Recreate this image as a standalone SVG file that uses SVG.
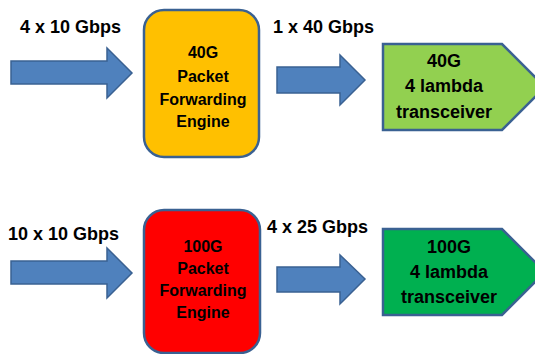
<svg xmlns="http://www.w3.org/2000/svg" width="535" height="354" viewBox="0 0 535 354">
<style>
.arrow{fill:#4F81BD;stroke:#3A6192;stroke-width:1.5}
.box{stroke:#3A6192;stroke-width:2.5}
.lbl{font-family:"Liberation Sans",Arial,sans-serif;font-weight:bold;font-size:18px;fill:#000}
.eng{font-family:"Liberation Sans",Arial,sans-serif;font-weight:bold;font-size:16px;fill:#000;text-anchor:middle}
.trx{font-family:"Liberation Sans",Arial,sans-serif;font-weight:bold;font-size:18px;fill:#000;text-anchor:middle}
</style>
<rect width="535" height="354" fill="#fff"/>
<g id="connectors">
<polygon class="arrow" points="11,61 107,61 107,48 132,73 107,98 107,84 11,84"/>
<polygon class="arrow" points="277,67 340,67 340,55 365,80 340,105 340,93 277,93"/>
<polygon class="arrow" points="11,261 107,261 107,248 132,273 107,298 107,284 11,284"/>
<polygon class="arrow" points="277,267 340,267 340,255 365,279 340,304 340,292 277,292"/>
</g>
<g id="label-4x10">
<text class="lbl" x="20" y="33">4 x 10 Gbps</text>
</g>
<g id="label-1x40">
<text class="lbl" x="273" y="33">1 x 40 Gbps</text>
</g>
<g id="label-10x10">
<text class="lbl" x="8" y="240">10 x 10 Gbps</text>
</g>
<g id="label-4x25">
<text class="lbl" x="267" y="233">4 x 25 Gbps</text>
</g>
<g id="engine40">
<rect class="box" x="144" y="10" width="115" height="147" rx="20" ry="20" fill="#FFC000"/>
<text class="eng" x="203" y="58">40G</text>
<text class="eng" x="203" y="82">Packet</text>
<text class="eng" x="203" y="105">Forwarding</text>
<text class="eng" x="203" y="127">Engine</text>
</g>
<g id="trx40">
<polygon class="box" points="383,44 502,44 545,87 502,130 383,130" fill="#92D050"/>
<text class="trx" x="444" y="67">40G</text>
<text class="trx" x="444" y="92">4 lambda</text>
<text class="trx" x="444" y="118">transceiver</text>
</g>
<g id="engine100">
<rect class="box" x="144" y="210" width="116" height="143" rx="20" ry="20" fill="#FF0000"/>
<text class="eng" x="203" y="252">100G</text>
<text class="eng" x="203" y="274">Packet</text>
<text class="eng" x="203" y="296">Forwarding</text>
<text class="eng" x="203" y="318">Engine</text>
</g>
<g id="trx100">
<polygon class="box" points="383,229 502,229 545,272 502,315 383,315" fill="#00B050"/>
<text class="trx" x="449" y="253">100G</text>
<text class="trx" x="449" y="278">4 lambda</text>
<text class="trx" x="449" y="303">transceiver</text>
</g>
</svg>
